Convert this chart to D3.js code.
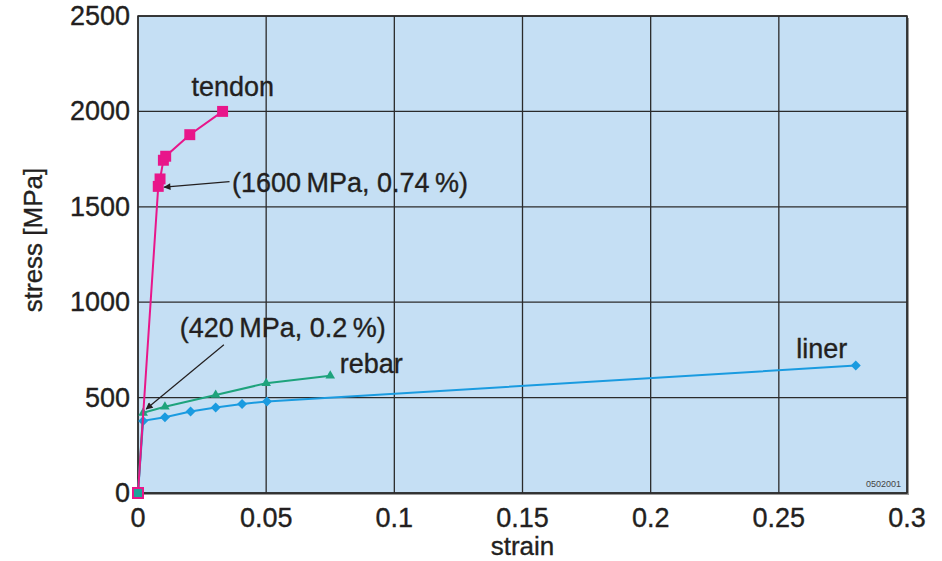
<!DOCTYPE html>
<html>
<head>
<meta charset="utf-8">
<script src="https://cdn.jsdelivr.net/npm/d3@7"></script>
<style>
  body { margin: 0; background: #fff; }
  text { font-family: "Liberation Sans", Arial, sans-serif; fill: #231f20; stroke: #231f20; stroke-width: 0.35px; }
</style>
</head>
<body>
<div id="chart"></div>
<script>
// data
var xTicks = [0, 0.05, 0.1, 0.15, 0.2, 0.25, 0.3];
var yTicks = [0, 500, 1000, 1500, 2000, 2500];

var tendonStrain = [0, 0.0079, 0.0086, 0.0099, 0.0108, 0.0202, 0.033];
var tendonStress = [0, 1607, 1646, 1744, 1765, 1878, 2000];

var rebarStrain = [0, 0.002, 0.0105, 0.0303, 0.05, 0.075];
var rebarStress = [0, 420, 452, 514, 575, 614];

var linerStrain = [0, 0.002, 0.0105, 0.0205, 0.0303, 0.0406, 0.0503, 0.28];
var linerStress = [0, 378, 397, 427, 448, 467, 479, 668];

var W = 942, H = 561;
var margin = {left: 138, right: 35, top: 16, bottom: 68};

var x = d3.scaleLinear().domain([0, 0.3]).range([margin.left, W - margin.right]);
var y = d3.scaleLinear().domain([0, 2500]).range([H - margin.bottom, margin.top]);

var svg = d3.select("#chart").append("svg")
  .attr("width", W).attr("height", H);

// shadow + background
svg.append("rect")
  .attr("x", x(0) + 2).attr("y", y(2500) + 2)
  .attr("width", x(0.3) - x(0)).attr("height", y(0) - y(2500))
  .style("fill", "#9a9a9a");
svg.append("rect")
  .attr("x", x(0)).attr("y", y(2500))
  .attr("width", x(0.3) - x(0)).attr("height", y(0) - y(2500))
  .style("fill", "#c5dff4");

// grid
svg.append("g").selectAll("line").data(xTicks).enter().append("line")
  .attr("x1", function(d){return x(d);}).attr("x2", function(d){return x(d);})
  .attr("y1", y(0)).attr("y2", y(2500))
  .style("stroke", "#2b2b2b").style("stroke-width", 1.3);
svg.append("g").selectAll("line").data(yTicks).enter().append("line")
  .attr("x1", x(0)).attr("x2", x(0.3))
  .attr("y1", function(d){return y(d);}).attr("y2", function(d){return y(d);})
  .style("stroke", "#2b2b2b").style("stroke-width", 1.3);

svg.append("rect")
  .attr("x", x(0)).attr("y", y(2500))
  .attr("width", x(0.3) - x(0)).attr("height", y(0) - y(2500))
  .style("fill", "none").style("stroke", "#2b2b2b").style("stroke-width", 1.5);

// tick labels
svg.append("g").selectAll("text").data(xTicks).enter().append("text")
  .attr("x", function(d){return x(d);})
  .attr("y", y(0) + 34)
  .attr("text-anchor", "middle")
  .style("font-size", "27px")
  .text(function(d){return d;});
svg.append("g").selectAll("text").data(yTicks).enter().append("text")
  .attr("x", x(0) - 8)
  .attr("y", function(d){return y(d) + 9;})
  .attr("text-anchor", "end")
  .style("font-size", "27px")
  .text(function(d){return d;});

svg.append("text")
  .attr("x", (x(0) + x(0.3)) / 2).attr("y", H - 6)
  .attr("text-anchor", "middle").style("font-size", "26px")
  .text("strain");
svg.append("text")
  .attr("transform", "translate(42," + 240 + ") rotate(-90)")
  .attr("text-anchor", "middle").style("font-size", "26px")
  .text("stress [MPa]");

svg.append("text")
  .attr("x", x(0.3) - 6).attr("y", y(0) - 6)
  .attr("text-anchor", "end").style("font-size", "9px")
  .style("fill", "#444").style("stroke", "none")
  .text("0502001");

var line = d3.line()
  .x(function(d){return x(d[0]);})
  .y(function(d){return y(d[1]);});

function series(strain, stress, color, symbol, size, rot) {
  var pts = d3.zip(strain, stress);
  svg.append("path").datum(pts)
    .attr("d", line)
    .style("fill", "none").style("stroke", color).style("stroke-width", 2);
  svg.append("g").selectAll("path").data(pts).enter().append("path")
    .attr("transform", function(d){return "translate(" + x(d[0]) + "," + y(d[1]) + ") rotate(" + rot + ")";})
    .attr("d", d3.symbol().type(symbol).size(size))
    .style("fill", color);
}

series(linerStrain, linerStress, "#1a9be0", d3.symbolSquare, 50, 45);
series(rebarStrain, rebarStress, "#1ea37c", d3.symbolTriangle, 40, 0);
series(tendonStrain, tendonStress, "#e8168a", d3.symbolSquare, 120, 0);

// origin marker: pink square outline with teal diamond
svg.append("rect")
  .attr("x", x(0) - 5).attr("y", y(0) - 5).attr("width", 10).attr("height", 10)
  .style("fill", "#1ea39a").style("stroke", "#e8168a").style("stroke-width", 2);

// labels
svg.append("text").attr("x", x(0.037)).attr("y", y(2080))
  .attr("text-anchor", "middle").style("font-size", "27px").text("tendon");
svg.append("text").attr("x", x(0.0787)).attr("y", y(630))
  .style("font-size", "27px").text("rebar");
svg.append("text").attr("x", x(0.2568)).attr("y", y(708))
  .style("font-size", "27px").text("liner");

// annotations
svg.append("defs").append("marker")
  .attr("id", "arr").attr("viewBox", "0 0 10 10")
  .attr("refX", 9).attr("refY", 5)
  .attr("markerWidth", 9).attr("markerHeight", 7)
  .attr("markerUnits", "userSpaceOnUse")
  .attr("orient", "auto")
  .append("path").attr("d", "M0,0 L10,5 L0,10 z").style("fill", "#231f20");

svg.append("line")
  .attr("x1", x(0.0357)).attr("y1", y(1632))
  .attr("x2", x(0.0102)).attr("y2", y(1603))
  .style("stroke", "#231f20").style("stroke-width", 1.2)
  .attr("marker-end", "url(#arr)");
svg.append("text").attr("x", x(0.0367)).attr("y", y(1577))
  .style("font-size", "27px").text("(1600\u2009MPa, 0.74\u2009%)");

svg.append("line")
  .attr("x1", x(0.0335)).attr("y1", y(777))
  .attr("x2", x(0.0032)).attr("y2", y(440))
  .style("stroke", "#231f20").style("stroke-width", 1.2)
  .attr("marker-end", "url(#arr)");
svg.append("text").attr("x", x(0.0163)).attr("y", y(817))
  .style("font-size", "27px").text("(420\u2009MPa, 0.2\u2009%)");
</script>
</body>
</html>
